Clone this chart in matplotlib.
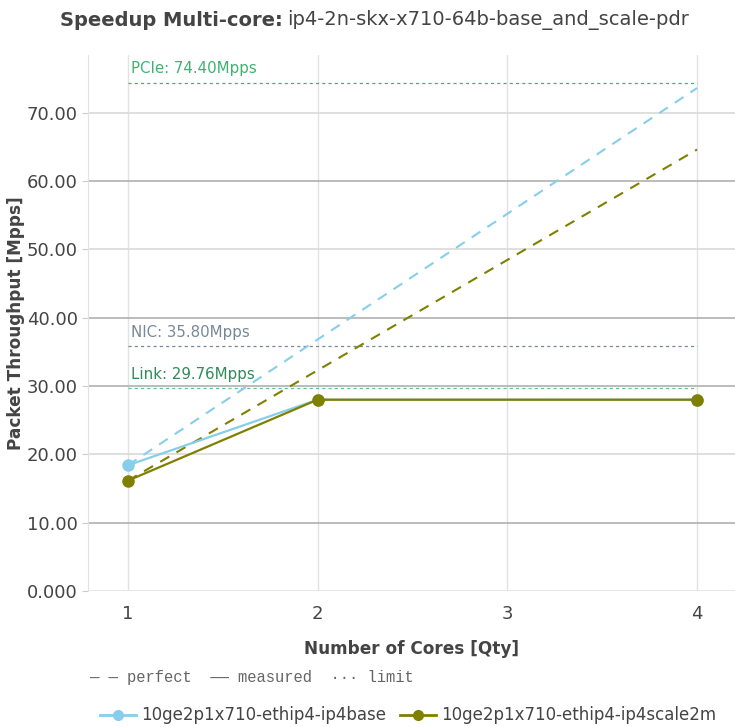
import matplotlib.pyplot as plt
from matplotlib.lines import Line2D

# Data
cores = [1, 2, 4]
base = [18.4, 28.0, 28.0]
scale2m = [16.15, 28.0, 28.0]
names = ["10ge2p1x710-ethip4-ip4base", "10ge2p1x710-ethip4-ip4scale2m"]
colors = ["#87ceeb", "#808000"]

limit_names = ["PCIe", "NIC", "Link"]
limit_values = [74.40, 35.80, 29.76]
limit_text_colors = ["#3cb371", "#778899", "#2e8b57"]
limit_line_colors = ["#3cb371", "#778899", "#66c08a"]

y_ticks = [0, 10, 20, 30, 40, 50, 60, 70]
y_labels = ["0.000", "10.00", "20.00", "30.00", "40.00", "50.00", "60.00", "70.00"]
x_ticks = [1, 2, 3, 4]

text_color = "#444444"
plt.rcParams["font.family"] = ["DejaVu Sans"]

fig = plt.figure(figsize=(7.35, 7.27), dpi=100)
ax = fig.add_axes([0.1197, 0.187, 0.8803, 0.737])

# Perfect scaling lines
for vals, c in zip([base, scale2m], colors):
    perfect = [vals[0] * n for n in cores]
    ax.plot(cores, perfect, color=c, linestyle=(0, (5, 4)), linewidth=1.5, zorder=3)

# Measured lines
for vals, c in zip([base, scale2m], colors):
    ax.plot(cores, vals, color=c, linewidth=1.6, marker="o", markersize=8, zorder=4)

# Limits
for name, v, tc, lc in zip(limit_names, limit_values, limit_text_colors, limit_line_colors):
    ax.plot([cores[0], cores[-1]], [v, v], color=lc, linestyle=(0, (2.5, 2.5)),
            linewidth=0.9, zorder=2)
    ax.text(cores[0] + 0.015, v + 0.9, "%s: %.2fMpps" % (name, v), color=tc,
            fontsize=10.8, va="bottom", ha="left")

ax.set_xlim(0.79, 4.2)
ax.set_ylim(0, 78.4)
ax.set_xticks(x_ticks)
ax.set_xticklabels([str(x) for x in x_ticks])
ax.set_yticks(y_ticks)
ax.set_yticklabels(y_labels)
ax.tick_params(axis="both", colors="#cccccc", labelcolor=text_color, labelsize=13,
               length=4, width=0.8)
ax.tick_params(axis="x", length=0, pad=10)

ax.grid(True, axis="x", color="#e2e2e2", linewidth=1)
ax.grid(True, axis="y", color="#d9d9d9", linewidth=1.2)
dark = [10, 30, 40, 60]
for t, gl in zip(y_ticks, ax.get_ygridlines()):
    if t in dark:
        gl.set_color("#b0b0b0")
    if t == 0:
        gl.set_color("#e5e5e5")
        gl.set_linewidth(2)
ax.set_axisbelow(True)

for s in ["top", "right", "bottom"]:
    ax.spines[s].set_visible(False)
ax.spines["left"].set_color("#e2e2e2")

ax.set_xlabel("Number of Cores [Qty]", fontsize=12.2, fontweight="bold",
              color=text_color, labelpad=12)
ax.set_ylabel("Packet Throughput [Mpps]", fontsize=12.2, fontweight="bold",
              color=text_color)
ax.yaxis.set_label_coords(-0.097, 0.5)

fig.text(0.385, 0.972, "Speedup Multi-core:", fontsize=14, fontweight="bold",
         color=text_color, ha="right", va="center")
fig.text(0.391, 0.972, "ip4-2n-skx-x710-64b-base_and_scale-pdr", fontsize=14,
         color=text_color, ha="left", va="center")

fig.text(0.122, 0.068, "— — perfect  —— measured  ··· limit", family="Liberation Mono",
         fontsize=11.2, color="#666666", va="center")

handles = [Line2D([], [], color=c, marker="o", markersize=7, linewidth=2) for c in colors]
fig.legend(handles, names, loc="center left", bbox_to_anchor=(0.115, 0.016),
           ncol=2, frameon=False, fontsize=12, labelcolor=text_color,
           handlelength=2.2, handletextpad=0.3, columnspacing=0.8)

fig.savefig("out.png", dpi=100)
